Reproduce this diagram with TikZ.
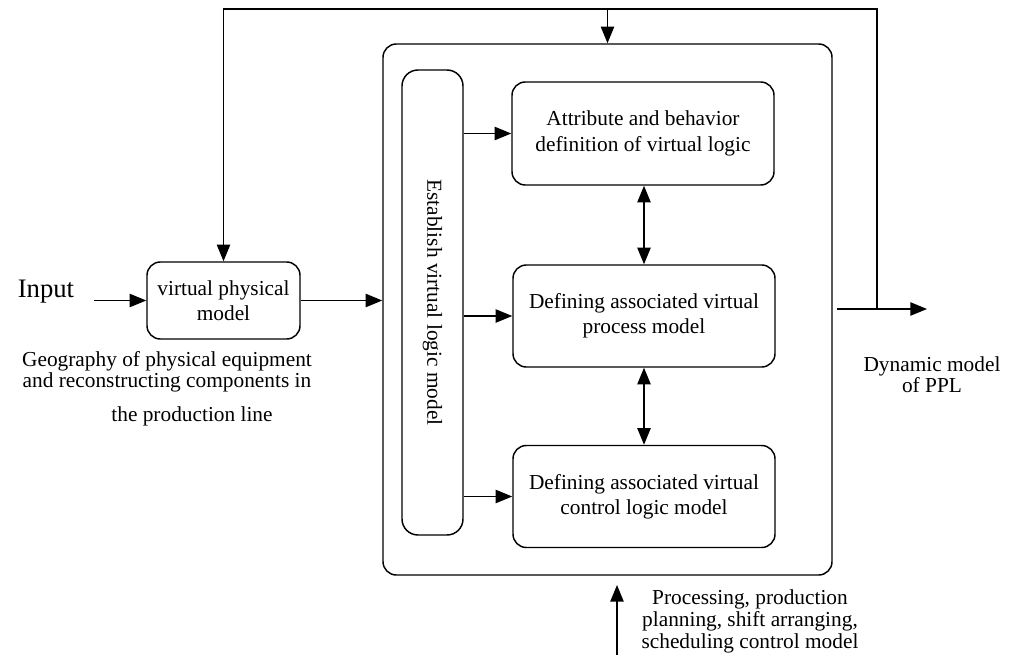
\documentclass[tikz,border=0pt]{standalone}
\usepackage{fontspec}
\setmainfont{Liberation Serif}
\usetikzlibrary{arrows.meta}
\begin{document}
\begin{tikzpicture}[x=0.75pt,y=-0.75pt,
  line width=1.1pt,
  arr/.style={-{Triangle[length=12.5pt,width=10pt]}},
  darr/.style={{Triangle[length=12.5pt,width=10pt]}-{Triangle[length=12.5pt,width=10pt]}},
  rbox/.style={draw, rounded corners=10pt, inner sep=0pt, align=center, font=\fontsize{16}{19}\selectfont},
  lbl/.style={inner sep=0pt, align=center, font=\fontsize{16}{16}\selectfont}]
\useasboundingbox (0,0) rectangle (1009,660);
\node[rbox, minimum width=336.75pt, minimum height=398.25pt] (outer) at (607.5,309.5) {};
\node[rbox, rounded corners=12pt, minimum width=45.75pt, minimum height=348.75pt] (vbox) at (432.5,302.5) {};
\node[lbl, rotate=-90] (vtext) at (vbox.center) {Establish virtual logic model};
\node[rbox, minimum width=196.5pt, minimum height=77.25pt] (b1) at (643,133.5) {Attribute and behavior\\definition of virtual logic};
\node[rbox, minimum width=196.5pt, minimum height=76.5pt] (b2) at (644,316) {Defining associated virtual\\process model};
\node[rbox, minimum width=196.5pt, minimum height=76.5pt] (b3) at (644,496.5) {Defining associated virtual\\control logic model};
\node[rbox, minimum width=114.75pt, minimum height=57.75pt] (vpm) at (223.5,300.5) {virtual physical\\model};
\node[lbl, font=\fontsize{20}{20}\selectfont] (inp) at (46,292) {Input};
\node[lbl] (cap1) at (167,372) {Geography of physical equipment\\and reconstructing components in};
\node[lbl] (cap2) at (192,416) {the production line};
\node[lbl, font=\fontsize{16}{16.5}\selectfont] (proc) at (750,621) {Processing, production\\planning, shift arranging,\\scheduling control model};
\node[lbl] (dyn) at (932,375) {Dynamic model\\of PPL};
\coordinate (inA) at (94,300.5);
\coordinate (o1) at (837,309);
\coordinate (o2) at (927,309);
\coordinate (fb) at (877,309);
\coordinate (tr) at (877,9);
\coordinate (bs) at (617,655);
\coordinate (be) at (617,585);
\draw[arr] (inA) -- (vpm.west);
\draw[arr] (vpm.east) -- (outer.west |- vpm.east);
\draw[arr] (vbox.east |- b1.west) -- (b1.west);
\draw[arr] (vbox.east |- b2.west) -- (b2.west);
\draw[arr] (vbox.east |- b3.west) -- (b3.west);
\draw[darr] (b2.north |- b1.south) -- (b2.north);
\draw[darr] (b2.south) -- (b3.north);
\draw[arr] (o1) -- (o2);
\draw[arr] (fb) -- (tr) -- (vpm.north |- tr) -- (vpm.north);
\draw[arr] (outer.north |- tr) -- (outer.north);
\draw[arr] (bs) -- (be);
\end{tikzpicture}
\end{document}
